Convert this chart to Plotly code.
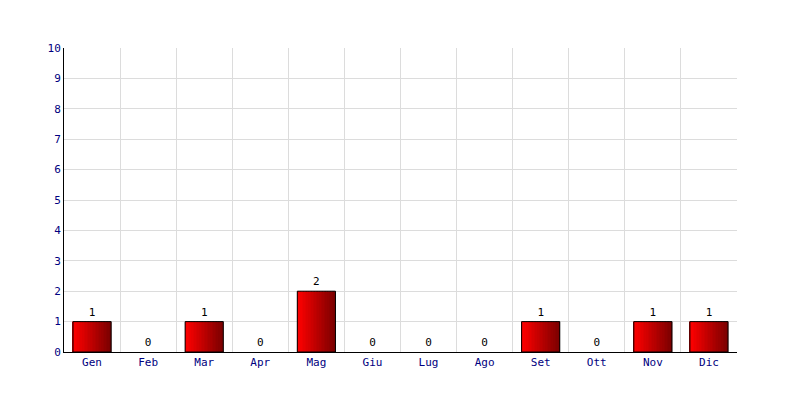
import plotly.graph_objects as go

months = ["Gen", "Feb", "Mar", "Apr", "Mag", "Giu", "Lug", "Ago", "Set", "Ott", "Nov", "Dic"]
values = [1, 0, 1, 0, 2, 0, 0, 0, 1, 0, 1, 1]
y_ticks = list(range(0, 11))

BAR_W = 0.68
N = 24
c0 = (255, 0, 0)
c1 = (125, 0, 0)

fig = go.Figure()
for i in range(N):
    t = i / (N - 1)
    col = "rgb(%d,%d,%d)" % tuple(round(a + (b - a) * t) for a, b in zip(c0, c1))
    fig.add_trace(go.Bar(
        x=months, y=values, width=BAR_W / N * 1.15,
        offset=-BAR_W / 2 + i * BAR_W / N,
        marker=dict(color=col, line=dict(width=0)),
        hoverinfo="skip", showlegend=False,
    ))
fig.add_trace(go.Bar(
    x=months, y=values, width=BAR_W, offset=-BAR_W / 2,
    marker=dict(color="rgba(0,0,0,0)",
                line=dict(color="black", width=[1 if v > 0 else 0 for v in values])),
    text=[str(v) for v in values], textposition="outside",
    textfont=dict(family="DejaVu Sans Mono", size=11, color="black"),
    outsidetextfont=dict(family="DejaVu Sans Mono", size=11, color="black"),
    cliponaxis=False, hoverinfo="skip", showlegend=False,
))

fig.update_layout(
    width=800, height=400,
    margin=dict(l=56, r=71, t=40, b=56),
    paper_bgcolor="white", plot_bgcolor="white",
    barmode="overlay",
    font=dict(family="DejaVu Sans Mono", size=11, color="#000080"),
    xaxis=dict(
        type="category", tickson="boundaries", showgrid=True,
        gridcolor="#dcdcdc", gridwidth=1, ticks="", showline=True,
        linecolor="black", linewidth=1, zeroline=False,
        tickfont=dict(color="#000080", size=11),
    ),
    yaxis=dict(
        range=[0, 10], tickvals=y_ticks, showgrid=True, gridcolor="#dcdcdc",
        showline=True, linecolor="black", linewidth=1, zeroline=False,
        ticks="", tickfont=dict(color="#000080", size=11),
    ),
)
fig.write_html("out.html")
